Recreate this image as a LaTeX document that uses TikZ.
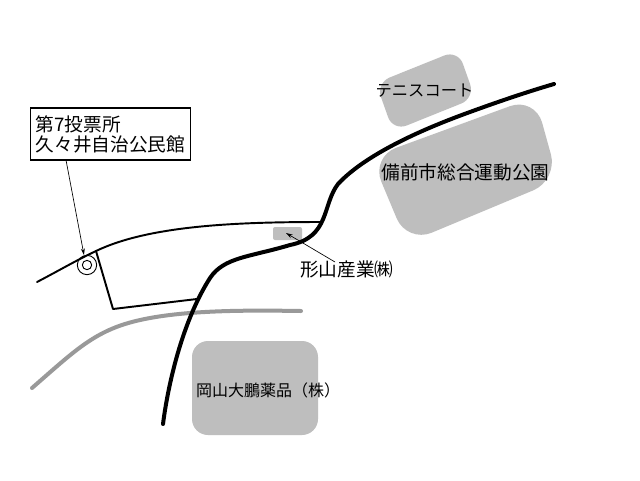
\documentclass[tikz,border=0pt]{standalone}
\usepackage{fontspec}
\setmainfont{Noto Sans CJK JP}
\usetikzlibrary{arrows.meta}
\definecolor{areagrey}{HTML}{BEBEBE}
\tikzset{
  area/.style={fill=areagrey,draw=none,rounded corners=11pt},
  lbl/.style={inner sep=0pt,align=left,text=black},
  lblbig/.style={lbl,font=\fontsize{14pt}{15pt}\selectfont},
  lblsmall/.style={lbl,font=\fontsize{12pt}{14pt}\selectfont},
  mainroad/.style={line width=3pt,line cap=round,line join=round},
  thinroad/.style={line width=1.45pt,line cap=round,line join=round},
  greyroad/.style={line width=3pt,draw=black!40,line cap=round},
  pointer/.style={line width=.5pt,-{Stealth[length=5pt,width=3pt]}}
}
\begin{document}
\begin{tikzpicture}[x=0.75pt,y=-0.75pt]
\useasboundingbox[fill=white] (0,0) rectangle (640,480);
% areas
\fill[area] (376,83) -- (458,50) -- (475,98) -- (393,131) -- cycle;
\fill[area,rounded corners=20pt] (371,157) -- (535,97) -- (558,180) -- (407,243) -- cycle;
\fill[area,rounded corners=12pt] (192,341) rectangle (318,435);
\fill[areagrey,rounded corners=1.5pt] (273,227) rectangle (302,240);
% roads
\draw[greyroad] (32,388) .. controls (70,355) and (90,335) .. (125,324) .. controls (170,310) and (240,310) .. (301,311);
\draw[thinroad] (37,282) .. controls (60,270) and (75,261) .. (96,251) .. controls (150,225) and (240,222) .. (322,222);
\draw[thinroad] (96,251) -- (113,309) -- (197,299);
\draw[mainroad] (163,424) .. controls (168,385) and (182,322) .. (210,278) .. controls (224,257) and (250,257) .. (290,245) .. controls (330,237) and (322,205) .. (338,184) .. controls (365,155) and (420,130) .. (470,112) .. controls (500,101) and (530,91) .. (554,84);
% symbol
\node[circle,draw,line width=.7pt,minimum size=14.5pt,inner sep=0pt] (poll) at (87,265) {};
\node[circle,draw,line width=.7pt,minimum size=7pt,inner sep=0pt] (pollin) at (87,265) {};
% labels
\node[draw,line width=.8pt,fill=white,inner sep=0pt,minimum width=119.5pt,minimum height=39pt] (box) at (110.5,134) {};
\node[lblbig,anchor=west] (boxtext) at (35.5,134) {第7投票所\\久々井自治公民館};
\node[lblsmall,font=\fontsize{12.2pt}{14pt}\selectfont,anchor=center] (tennis) at (424.5,91) {テニスコート};
\node[lblbig,anchor=center] (park) at (465.5,172) {備前市総合運動公園};
\node[lblbig,anchor=west] (katayama) at (300,269) {形山産業㈱};
\node[lblsmall,anchor=center] (yakuhin) at (268,390) {岡山大鵬薬品（株）};
\coordinate (boxfoot) at (66,160);
\coordinate (polltip) at (84,255);
\coordinate (labeltail) at (335,262);
\coordinate (recttip) at (286,233);
\draw[pointer] (boxfoot) -- (polltip);
\draw[pointer] (labeltail) -- (recttip);
\end{tikzpicture}
\end{document}
